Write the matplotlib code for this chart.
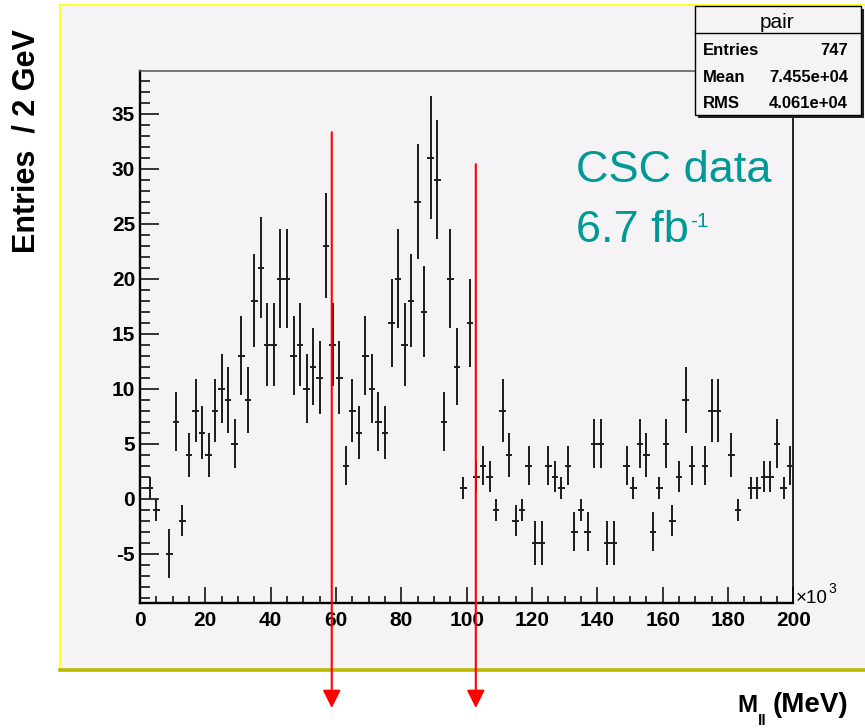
import numpy as np
import matplotlib
matplotlib.use('Agg')
import matplotlib.pyplot as plt
from matplotlib.patches import Rectangle
from matplotlib.lines import Line2D

plt.rcParams['font.family'] = ['Liberation Sans', 'DejaVu Sans']
plt.rcParams['axes.unicode_minus'] = False

W, H = 865, 728

# ---------------- data ----------------
# histogram "pair": 100 bins of 2 GeV between 0 and 200 (x10^3 MeV)
bin_width = 2.0
x_range = (0, 200)
counts = [None, 1, -1, None, -5, 7, -2, 4, 8, 6,
          4, 8, 10, 9, 5, 13, 9, 18, 21, 14,
          14, 20, 20, 13, 14, 10, 12, 11, 23, 14,
          11, 3, 8, 6, 13, 10, 7, 6, 16, 20,
          14, 18, 27, 17, 31, 29, 7, 20, 12, 1,
          16, 2, 3, 2, -1, 8, 4, -2, -1, 3,
          -4, -4, 3, 2, 1, 3, -3, -1, -3, 5,
          5, -4, -4, None, 3, 1, 5, 4, -3, 1,
          5, -2, 2, 9, 3, None, 3, 8, 8, None,
          4, -1, None, 1, 1, 2, 2, 5, 1, 3]
errors = [None, 1.00, 1.00, None, 2.24, 2.65, 1.41, 2.00, 2.83, 2.45,
          2.00, 2.83, 3.16, 3.00, 2.24, 3.61, 3.00, 4.24, 4.58, 3.74,
          3.74, 4.47, 4.47, 3.61, 3.74, 3.16, 3.46, 3.32, 4.80, 3.74,
          3.32, 1.73, 2.83, 2.45, 3.61, 3.16, 2.65, 2.45, 4.00, 4.47,
          3.74, 4.24, 5.20, 4.12, 5.57, 5.39, 2.65, 4.47, 3.46, 1.00,
          4.00, 1.41, 1.73, 1.41, 1.00, 2.83, 2.00, 1.41, 1.00, 1.73,
          2.00, 2.00, 1.73, 1.41, 1.00, 1.73, 1.73, 1.00, 1.73, 2.24,
          2.24, 2.00, 2.00, None, 1.73, 1.00, 2.24, 2.00, 1.73, 1.00,
          2.24, 1.41, 1.41, 3.00, 1.73, None, 1.73, 2.83, 2.83, None,
          2.00, 1.00, None, 1.00, 1.00, 1.41, 1.41, 2.24, 1.00, 1.73]

y_ticks = [-5, 0, 5, 10, 15, 20, 25, 30, 35]
y_tick_labels = ['-5', '0', '5', '10', '15', '20', '25', '30', '35']
x_ticks = [0, 20, 40, 60, 80, 100, 120, 140, 160, 180, 200]
x_tick_labels = ['0', '20', '40', '60', '80', '100', '120', '140', '160', '180', '200']

# mass-window arrows (x in 10^3 MeV, top in entries)
arrow_x = [58.7, 102.8]
arrow_top = [33.3, 30.4]

stats_title = 'pair'
stats_names = ['Entries', 'Mean', 'RMS']
stats_values = ['747', '7.455e+04', '4.061e+04']

# ---------------- figure ----------------
def fx(px):
    return px / W

def fy(py):
    return 1 - py / H

pad_color = '#f6f3f7'
fig = plt.figure(figsize=(W / 100, H / 100), dpi=100)
fig.patch.set_facecolor('white')

# ROOT pad
fig.patches.append(Rectangle((fx(60), fy(670)), 1.0, (670 - 5) / H,
                             transform=fig.transFigure, facecolor=pad_color,
                             edgecolor='none', zorder=-10))
fig.lines.append(Line2D([fx(60), 1.0], [fy(5), fy(5)], transform=fig.transFigure,
                        color='#ffff30', lw=1.5, zorder=-9))
fig.lines.append(Line2D([fx(60), fx(60)], [fy(5), fy(670)], transform=fig.transFigure,
                        color='#ffff30', lw=1.5, zorder=-9))
fig.lines.append(Line2D([fx(60), 1.0], [fy(670), fy(670)], transform=fig.transFigure,
                        color='#bcb800', lw=2.6, zorder=-9))

ax = fig.add_axes([fx(140), fy(603), fx(793.3) - fx(140), (603 - 70.7) / H])
ax.set_facecolor('none')

centers, vals, errs = [], [], []
for i, (c, e) in enumerate(zip(counts, errors)):
    if c is None:
        continue
    centers.append(x_range[0] + (i + 0.5) * bin_width)
    vals.append(c)
    errs.append(e)

ax.errorbar(centers, vals, xerr=bin_width / 2, yerr=errs, fmt='none',
            ecolor='#1c1c1c', elinewidth=1.4, capsize=0, zorder=3)

ax.set_xlim(*x_range)
ax.set_ylim(-9.5, 38.9)
ax.set_xticks(x_ticks)
ax.set_xticklabels(x_tick_labels)
ax.set_yticks(y_ticks)
ax.set_yticklabels(y_tick_labels)
ax.set_xticks(np.arange(0, 201, 5), minor=True)
ax.set_yticks(np.arange(-9, 39, 1), minor=True)
for lab in ax.get_xticklabels() + ax.get_yticklabels():
    lab.set_fontweight('bold')
    lab.set_fontsize(15)
ax.tick_params(axis='y', which='major', direction='in', length=13.5, width=1.1, pad=3.5)
ax.tick_params(axis='y', which='minor', direction='in', length=7.5, width=1.1)
ax.tick_params(axis='x', which='major', direction='in', length=11.5, width=1.1, pad=6)
ax.tick_params(axis='x', which='minor', direction='in', length=5, width=1.1)
ax.tick_params(top=False, right=False, which='both')

for s in ['left', 'bottom']:
    ax.spines[s].set_linewidth(1.7)
    ax.spines[s].set_color('black')
ax.spines['top'].set_linewidth(1.1)
ax.spines['top'].set_color('#555555')
ax.spines['right'].set_linewidth(1.2)
ax.spines['right'].set_color('black')

# red arrows
for xa, ta in zip(arrow_x, arrow_top):
    ax.annotate('', xy=(xa, fy(708)), xycoords=('data', 'figure fraction'),
                xytext=(xa, ta), textcoords='data',
                arrowprops=dict(arrowstyle='-|>,head_length=0.4,head_width=0.2',
                                color='#ff0000', lw=1.5, mutation_scale=27,
                                shrinkA=0, shrinkB=0),
                annotation_clip=False, zorder=10)

# axis titles
fig.text(fx(26.5), fy(141), 'Entries  / 2 GeV', rotation=90, ha='center', va='center',
         fontsize=22, fontweight='bold')

fig.canvas.draw()
renderer = fig.canvas.get_renderer()

def place_seq(pieces, x0, color='black'):
    """pieces: list of (text, size, weight, baseline_px, gap_px)"""
    x = x0
    for txt, size, weight, base, gap in pieces:
        x = x + gap
        t = fig.text(fx(x), fy(base), txt, fontsize=size, fontweight=weight,
                     ha='left', va='baseline', color=color)
        bb = t.get_window_extent(renderer)
        x = x + bb.width

place_seq([('M', 17.5, 'bold', 711.5, 0), ('ll', 11, 'bold', 725, 0.5),
           ('(MeV)', 20, 'bold', 711.5, 6)], 737)
place_seq([('\u00d710', 13.5, 'normal', 603, 0), ('3', 10, 'normal', 593, 0.5)], 796)

# CSC text
teal = '#009a96'
fig.text(fx(576), fy(182), 'CSC data', fontsize=32.5, color=teal, ha='left', va='baseline')
place_seq([('6.7 fb', 32.5, 'normal', 242, 0), ('-1', 15, 'normal', 227, 1)], 576, color=teal)

# stats box
bx0, bx1, by0, by1 = 695, 861, 6, 115
fig.patches.append(Rectangle((fx(bx0 + 3), fy(by1 + 3)), fx(bx1) - fx(bx0), (by1 - by0) / H,
                             transform=fig.transFigure, facecolor='#222222',
                             edgecolor='none', zorder=20))
fig.patches.append(Rectangle((fx(bx0), fy(by1)), fx(bx1) - fx(bx0), (by1 - by0) / H,
                             transform=fig.transFigure, facecolor=pad_color,
                             edgecolor='black', lw=1.0, zorder=21))
fig.lines.append(Line2D([fx(bx0), fx(bx1)], [fy(33.3), fy(33.3)], transform=fig.transFigure,
                        color='black', lw=1.0, zorder=22))
fig.text(fx(777), fy(28.5), stats_title, fontsize=15, ha='center', va='baseline', zorder=23)
for k, (nm, vv) in enumerate(zip(stats_names, stats_values)):
    base = 55 + k * 26.7
    fig.text(fx(703), fy(base), nm, fontsize=12, fontweight='bold', ha='left',
             va='baseline', zorder=23)
    fig.text(fx(848), fy(base), vv, fontsize=12, fontweight='bold', ha='right',
             va='baseline', zorder=23)

fig.savefig('out.png', dpi=100, facecolor='white')
